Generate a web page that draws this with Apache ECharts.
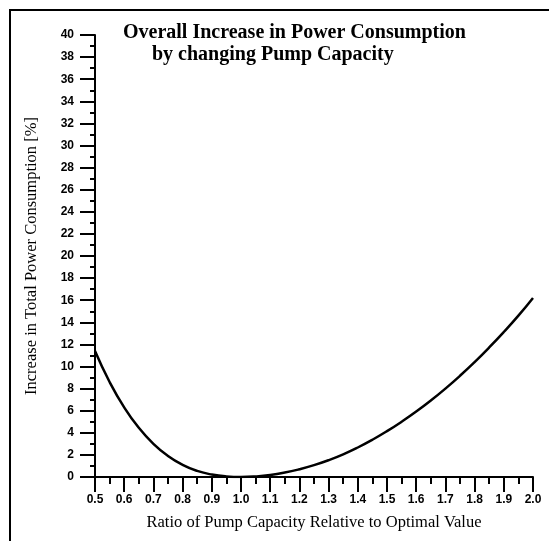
<!DOCTYPE html>
<html lang="en">
<head>
    <meta charset="UTF-8">
    <title>Overall Increase in Power Consumption</title>
    <style>
        html, body {
            margin: 0;
            padding: 0;
            background: #ffffff;
        }
        #main {
            width: 550px;
            height: 541px;
        }
    </style>
    <script type="text/javascript" src="https://cdn.jsdelivr.net/npm/echarts@6/dist/echarts.min.js"></script>
</head>
<body>
<div id="main"></div>
<script type="text/javascript">
    // pump capacity ratio (relative to optimal) and increase in total power [%]
    var ratio = [0.5, 0.55, 0.6, 0.65, 0.7, 0.75, 0.8, 0.85, 0.9, 0.95, 1.0,
        1.05, 1.1, 1.15, 1.2, 1.25, 1.3, 1.35, 1.4, 1.45, 1.5,
        1.55, 1.6, 1.65, 1.7, 1.75, 1.8, 1.85, 1.9, 1.95, 2.0];
    var increase = [11.4, 8.6, 6.3, 4.45, 3.0, 1.9, 1.1, 0.55, 0.22, 0.05, 0,
        0.05, 0.18, 0.4, 0.7, 1.07, 1.52, 2.05, 2.67, 3.37, 4.15,
        5.0, 5.92, 6.92, 8.0, 9.16, 10.4, 11.72, 13.12, 14.6, 16.2];
    var titleLines = ['Overall Increase in Power Consumption', 'by changing Pump Capacity'];

    var points = [];
    for (var i = 0; i < ratio.length; i++) {
        points.push([ratio[i], increase[i]]);
    }

    var serif = 'Liberation Serif';
    var sans = 'Liberation Sans';

    var chart = echarts.init(document.getElementById('main'));
    var option = {
        animation: false,
        title: [{
            text: titleLines[0],
            left: 118,
            top: 18,
            textStyle: {fontFamily: serif, fontSize: 20, fontWeight: 'bold', color: '#000'}
        }, {
            text: titleLines[1],
            left: 147,
            top: 40,
            textStyle: {fontFamily: serif, fontSize: 20, fontWeight: 'bold', color: '#000'}
        }],
        // outer frame of the scanned figure (top and left edges only)
        graphic: [
            {type: 'line', shape: {x1: 9, y1: 10, x2: 549, y2: 10}, style: {stroke: '#000', lineWidth: 2}},
            {type: 'line', shape: {x1: 10, y1: 10, x2: 10, y2: 541}, style: {stroke: '#000', lineWidth: 2}}
        ],
        grid: {
            left: 95,
            right: 17,
            top: 35,
            bottom: 64
        },
        xAxis: {
            type: 'value',
            min: 0.5,
            max: 2.0,
            interval: 0.1,
            name: 'Ratio of Pump Capacity Relative to Optimal Value',
            nameLocation: 'middle',
            nameGap: 37,
            nameTextStyle: {fontFamily: serif, fontSize: 16.5, color: '#000'},
            axisLine: {lineStyle: {color: '#000', width: 2}},
            axisTick: {length: 15, lineStyle: {color: '#000', width: 2}},
            minorTick: {show: true, splitNumber: 2, length: 7, lineStyle: {color: '#000', width: 2}},
            splitLine: {show: false},
            axisLabel: {
                fontFamily: sans, fontSize: 12, fontWeight: 'bold', color: '#000', margin: 17,
                formatter: function (v) { return v.toFixed(1); }
            }
        },
        yAxis: {
            type: 'value',
            min: 0,
            max: 40,
            interval: 2,
            name: 'Increase in Total Power Consumption [%]',
            nameLocation: 'middle',
            nameGap: 55,
            nameTextStyle: {fontFamily: serif, fontSize: 16.5, color: '#000'},
            axisLine: {show: true, lineStyle: {color: '#000', width: 2}},
            axisTick: {show: true, length: 15, lineStyle: {color: '#000', width: 2}},
            minorTick: {show: true, splitNumber: 2, length: 5, lineStyle: {color: '#000', width: 2}},
            splitLine: {show: false},
            axisLabel: {fontFamily: sans, fontSize: 12, fontWeight: 'bold', color: '#000', margin: 21}
        },
        series: [{
            type: 'line',
            data: points,
            smooth: true,
            symbol: 'none',
            lineStyle: {color: '#000', width: 2.5}
        }]
    };
    chart.setOption(option);
</script>
</body>
</html>
